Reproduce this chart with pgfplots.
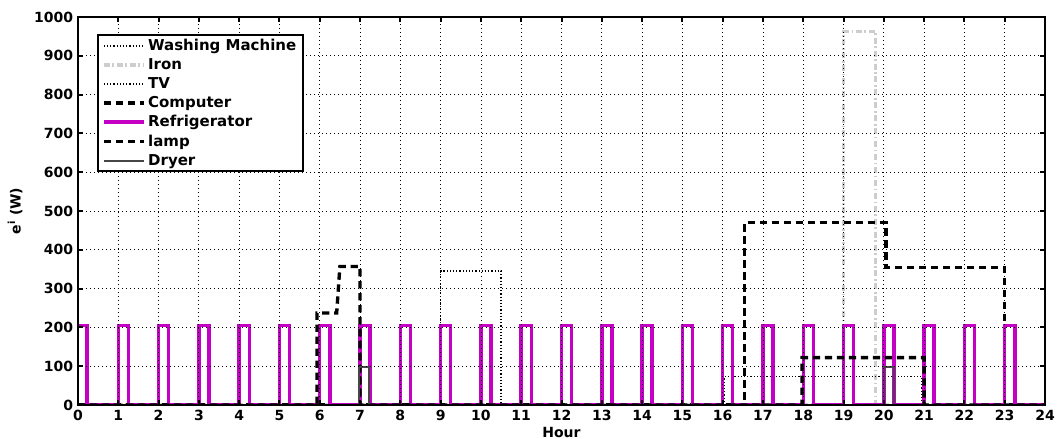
\documentclass[border=0pt]{standalone}
\usepackage{fontspec}
\setmainfont{DejaVu Sans}
\usepackage{pgfplots}
\pgfplotsset{compat=1.18}
\usetikzlibrary{calc}

\definecolor{fridge}{RGB}{196,0,196}
\definecolor{irongray}{RGB}{205,205,205}
\definecolor{dryergray}{RGB}{70,70,70}

\pgfplotsset{
  dotline/.style={black, line width=1.2pt, dash pattern=on 0.9pt off 1.5pt},
  dashline/.style={black, line width=2.5pt, dash pattern=on 5.5pt off 3.5pt},
}

\begin{document}
\fontsize{10.5}{12}\selectfont\bfseries
\begin{tikzpicture}
  \begin{axis}[
    name=ax,
    width=725.25pt, height=291pt,
    scale only axis,
    xmin=0, xmax=24,
    ymin=0, ymax=1000,
    xtick={0,1,...,24},
    ytick={0,100,...,1000},
    grid=major,
    grid style={black, line width=0.6pt, dash pattern=on 0.6pt off 2.4pt},
    tick align=inside,
    major tick length=4pt,
    tick style={black, line width=1.5pt},
    axis line style={line width=1.6pt},
    axis on top,
    tick label style={font=\fontsize{10.5}{11}\selectfont\bfseries},
    /pgf/number format/assume math mode=true,
    /pgf/number format/1000 sep={},
    xlabel={Hour},
    ylabel={e\textsuperscript{i} (W)},
    xlabel style={at={(axis description cs:0.5,-0.0696)}, anchor=center},
    ylabel style={at={(axis description cs:-0.0651,0.5)}, anchor=center},
    legend style={at={(rel axis cs:0.0196,0.956)}, anchor=north west,
      draw=black, line width=1.6pt, fill=white,
      font=\fontsize{11.25}{12}\selectfont\bfseries,
      inner xsep=3pt, inner ysep=1pt, row sep=0.4pt},
    legend cell align=left,
    legend image code/.code={\draw[#1] (0pt,0pt) -- (30pt,0pt);},
  ]
  % Washing Machine
  \addplot[dotline] coordinates {
    (0,0) (9,0) (9,345) (10.5,345) (10.5,0) (24,0)
  };
  % Iron
  \addplot[irongray, line width=2.5pt, dash pattern=on 4.5pt off 2pt on 1.2pt off 2pt] coordinates {
    (0,0) (19,0) (19,962) (19.8,962) (19.8,0) (24,0)
  };
  % TV
  \addplot[dotline] coordinates {
    (0,0) (16.05,0) (16.05,73) (20.95,73) (20.95,0) (24,0)
  };
  % Computer
  \addplot[dashline] coordinates {
    (0,0) (16.55,0) (16.55,470) (20.05,470) (20.05,355) (23.0,355) (23.0,0) (24,0)
  };
  % Refrigerator
  \addplot[fridge, line width=2.6pt] coordinates {
    (0,205) (0.22,205) (0.22,0)
    (1,0) (1,205) (1.25,205) (1.25,0)
    (2,0) (2,205) (2.25,205) (2.25,0)
    (3,0) (3,205) (3.25,205) (3.25,0)
    (4,0) (4,205) (4.25,205) (4.25,0)
    (5,0) (5,205) (5.25,205) (5.25,0)
    (6,0) (6,205) (6.25,205) (6.25,0)
    (7,0) (7,205) (7.25,205) (7.25,0)
    (8,0) (8,205) (8.25,205) (8.25,0)
    (9,0) (9,205) (9.25,205) (9.25,0)
    (10,0) (10,205) (10.25,205) (10.25,0)
    (11,0) (11,205) (11.25,205) (11.25,0)
    (12,0) (12,205) (12.25,205) (12.25,0)
    (13,0) (13,205) (13.25,205) (13.25,0)
    (14,0) (14,205) (14.25,205) (14.25,0)
    (15,0) (15,205) (15.25,205) (15.25,0)
    (16,0) (16,205) (16.25,205) (16.25,0)
    (17,0) (17,205) (17.25,205) (17.25,0)
    (18,0) (18,205) (18.25,205) (18.25,0)
    (19,0) (19,205) (19.25,205) (19.25,0)
    (20,0) (20,205) (20.25,205) (20.25,0)
    (21,0) (21,205) (21.25,205) (21.25,0)
    (22,0) (22,205) (22.25,205) (22.25,0)
    (23,0) (23,205) (23.25,205) (23.25,0)
    (24,0)
  };
  % lamp
  \addplot[dashline] coordinates {
    (0,0) (5.93,0) (5.93,237) (6.42,237) (6.5,357) (7.0,357) (7.0,0)
    (17.97,0) (17.97,122) (21.0,122) (21.0,0) (24,0)
  };
  % Dryer
  \addplot[dryergray, line width=1.3pt] coordinates {
    (0,0) (6.97,0) (6.97,97) (7.23,97) (7.23,0)
    (20.0,0) (20.0,97) (20.25,97) (20.25,0) (24,0)
  };
  \legend{Washing Machine, Iron, TV, Computer, Refrigerator, lamp, Dryer}
  \end{axis}
  \pgfresetboundingbox
  \useasboundingbox ($(ax.south west)+(-58.5pt,-25.5pt)$) rectangle ($(ax.north east)+(9pt,12.75pt)$);
\end{tikzpicture}
\end{document}
